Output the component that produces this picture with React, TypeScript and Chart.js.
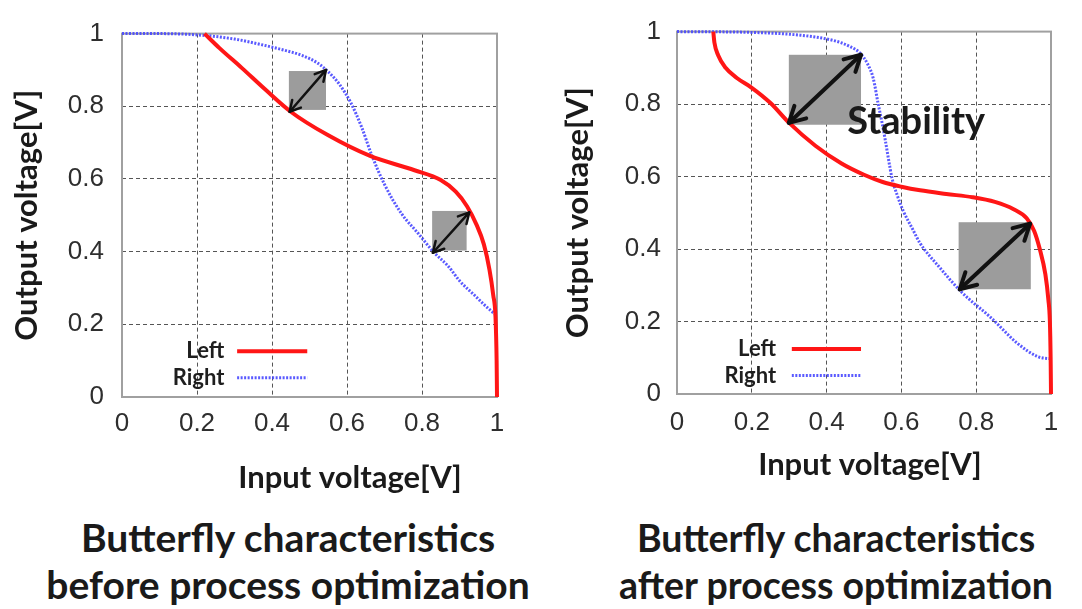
import React, { useEffect, useRef } from "react";
import { Chart, registerables } from "chart.js";

Chart.register(...registerables);

// ---------- data: before process optimization ----------
const beforeLeftX = [0.22, 0.26, 0.32, 0.38, 0.45, 0.55, 0.66, 0.78, 0.85, 0.89, 0.92, 0.945, 0.965, 0.98, 0.99, 0.996, 0.999, 1.0];
const beforeLeftY = [1.0, 0.96, 0.905, 0.848, 0.785, 0.72, 0.664, 0.624, 0.597, 0.565, 0.525, 0.475, 0.42, 0.35, 0.28, 0.22, 0.1, 0.0];
const beforeRightX = [0, 0.1, 0.22, 0.3, 0.37, 0.43, 0.48, 0.52, 0.55, 0.58, 0.61, 0.64, 0.665, 0.7, 0.745, 0.79, 0.83, 0.87, 0.9, 0.94, 0.97, 1.0];
const beforeRightY = [1.0, 1.0, 0.995, 0.985, 0.97, 0.955, 0.94, 0.92, 0.895, 0.86, 0.81, 0.74, 0.668, 0.585, 0.505, 0.45, 0.4, 0.36, 0.32, 0.28, 0.25, 0.223];
// boxes: [x0, x1, y0, y1]; arrows: [xa, ya, xb, yb]
const beforeBoxes = [
  [0.445, 0.544, 0.79, 0.897],
  [0.827, 0.919, 0.403, 0.512],
];
const beforeArrows = [
  [0.447, 0.785, 0.544, 0.9],
  [0.829, 0.397, 0.926, 0.508],
];

// ---------- data: after process optimization ----------
const afterLeftX = [0.097, 0.1, 0.11, 0.13, 0.16, 0.2, 0.25, 0.3, 0.37, 0.44, 0.5, 0.55, 0.6, 0.65, 0.72, 0.79, 0.85, 0.9, 0.935, 0.955, 0.97, 0.985, 0.993, 0.997, 0.999, 1.0];
const afterLeftY = [1.0, 0.97, 0.935, 0.9, 0.872, 0.845, 0.803, 0.748, 0.685, 0.636, 0.605, 0.585, 0.572, 0.562, 0.552, 0.543, 0.53, 0.51, 0.485, 0.45, 0.4, 0.33, 0.26, 0.2, 0.1, 0.0];
const afterRightX = [0, 0.19, 0.33, 0.42, 0.46, 0.49, 0.51, 0.525, 0.538, 0.548, 0.557, 0.566, 0.575, 0.59, 0.605, 0.63, 0.65, 0.7, 0.76, 0.84, 0.91, 0.965, 1.0];
const afterRightY = [1.0, 0.998, 0.99, 0.975, 0.96, 0.94, 0.91, 0.87, 0.8, 0.75, 0.7, 0.645, 0.595, 0.545, 0.505, 0.455, 0.416, 0.352, 0.282, 0.21, 0.14, 0.103, 0.097];
const afterBoxes = [
  [0.299, 0.492, 0.743, 0.936],
  [0.753, 0.946, 0.289, 0.474],
];
const afterArrows = [
  [0.299, 0.748, 0.492, 0.936],
  [0.756, 0.289, 0.944, 0.47],
];

const seriesNames = ["Left", "Right"];
const xTitle = "Input voltage[V]";
const yTitle = "Output voltage[V]";
const captionBefore = ["Butterfly characteristics", "before process optimization"];
const captionAfter = ["Butterfly characteristics", "after process optimization"];
const stabilityText = "Stability";

const RED = "#ff1616";
const BLUE = "rgba(72,72,255,0.9)";
const TITLE_FONT = "Lato";

type Spec = {
  leftX: number[]; leftY: number[]; rightX: number[]; rightY: number[];
  boxes: number[][]; arrows: number[][];
  arrowW: number; headLen: number;
  yWidth: number; padRight: number; xHeight: number;
  xTickPad: number; yTickPad: number; yTitlePad: number;
  xTitlePos: number; xTitleDy: number;
  legend: { textX: number; x0: number; x1: number; y0: number; y1: number };
  label?: { text: string; x: number; y: number };
};

function drawArrow(ctx: CanvasRenderingContext2D, ax: number, ay: number, bx: number, by: number, w: number, hl: number) {
  ctx.save();
  ctx.strokeStyle = "#111";
  ctx.lineWidth = w;
  ctx.lineCap = "round";
  ctx.lineJoin = "round";
  ctx.beginPath();
  ctx.moveTo(ax, ay);
  ctx.lineTo(bx, by);
  ctx.stroke();
  const heads = [
    [bx, by, Math.atan2(by - ay, bx - ax)],
    [ax, ay, Math.atan2(ay - by, ax - bx)],
  ];
  for (const [tx, ty, ang] of heads) {
    ctx.beginPath();
    ctx.moveTo(tx - hl * Math.cos(ang - 0.5), ty - hl * Math.sin(ang - 0.5));
    ctx.lineTo(tx, ty);
    ctx.lineTo(tx - hl * Math.cos(ang + 0.5), ty - hl * Math.sin(ang + 0.5));
    ctx.stroke();
  }
  ctx.restore();
}

const fmtTick = (v: number | string) => String(Math.round(Number(v) * 10) / 10);

function Panel({ spec }: { spec: Spec }) {
  const ref = useRef<HTMLCanvasElement>(null);
  useEffect(() => {
    const s = spec;
    const pts = (xs: number[], ys: number[]) => xs.map((x, i) => ({ x, y: ys[i] }));
    const overlay = {
      id: "overlay",
      beforeDatasetsDraw(chart: any) {
        const { ctx, chartArea: a, scales } = chart;
        const x = scales.x, y = scales.y;
        ctx.save();
        ctx.fillStyle = "#9c9c9c";
        for (const [x0, x1, y0, y1] of s.boxes) {
          const px0 = x.getPixelForValue(x0), px1 = x.getPixelForValue(x1);
          const py0 = y.getPixelForValue(y0), py1 = y.getPixelForValue(y1);
          ctx.fillRect(px0, py1, px1 - px0, py0 - py1);
        }
        ctx.strokeStyle = "#a0a0a0";
        ctx.lineWidth = 2;
        ctx.strokeRect(a.left, a.top, a.right - a.left, a.bottom - a.top);
        // x axis title
        ctx.font = `bold 31px ${TITLE_FONT}`;
        ctx.fillStyle = "#1a1a1a";
        ctx.textAlign = "center";
        ctx.textBaseline = "middle";
        ctx.fillText(xTitle, x.getPixelForValue(s.xTitlePos), a.bottom + s.xTitleDy);
        ctx.restore();
      },
      afterDatasetsDraw(chart: any) {
        const { ctx, scales } = chart;
        const x = scales.x, y = scales.y;
        for (const [xa, ya, xb, yb] of s.arrows) {
          drawArrow(ctx, x.getPixelForValue(xa), y.getPixelForValue(ya), x.getPixelForValue(xb), y.getPixelForValue(yb), s.arrowW, s.headLen);
        }
        const L = s.legend;
        ctx.save();
        ctx.font = `bold 22px ${TITLE_FONT}`;
        ctx.fillStyle = "#1e1e1e";
        ctx.textAlign = "right";
        ctx.textBaseline = "middle";
        const tx = x.getPixelForValue(L.textX);
        const lx0 = x.getPixelForValue(L.x0), lx1 = x.getPixelForValue(L.x1);
        const ly0 = y.getPixelForValue(L.y0), ly1 = y.getPixelForValue(L.y1);
        ctx.fillText(seriesNames[0], tx, ly0);
        ctx.fillText(seriesNames[1], tx, ly1);
        ctx.lineCap = "butt";
        ctx.strokeStyle = RED;
        ctx.lineWidth = 4;
        ctx.beginPath(); ctx.moveTo(lx0, ly0); ctx.lineTo(lx1, ly0); ctx.stroke();
        ctx.strokeStyle = BLUE;
        ctx.lineWidth = 3;
        ctx.setLineDash([2, 1.5]);
        ctx.beginPath(); ctx.moveTo(lx0, ly1); ctx.lineTo(lx1, ly1); ctx.stroke();
        ctx.setLineDash([]);
        if (s.label) {
          ctx.font = `bold 38px ${TITLE_FONT}`;
          ctx.textAlign = "left";
          ctx.fillStyle = "#1a1a1a";
          ctx.fillText(s.label.text, x.getPixelForValue(s.label.x), y.getPixelForValue(s.label.y));
        }
        ctx.restore();
      },
    };
    const tickFont = { family: "Liberation Sans", size: 26 };
    const titleFont = { family: TITLE_FONT, weight: "bold" as const, size: 31 };
    const chart = new Chart(ref.current!, {
      type: "line",
      data: {
        datasets: [
          {
            label: seriesNames[0], data: pts(s.leftX, s.leftY), borderColor: RED, borderWidth: 4,
            pointRadius: 0, cubicInterpolationMode: "monotone", clip: false as any, fill: false,
          },
          {
            label: seriesNames[1], data: pts(s.rightX, s.rightY), borderColor: BLUE, borderWidth: 3,
            borderDash: [2, 1.5], pointRadius: 0, cubicInterpolationMode: "monotone", clip: false as any, fill: false,
          },
        ],
      },
      options: {
        responsive: false,
        animation: false,
        events: [],
        layout: { padding: { top: 23, right: s.padRight, left: 0, bottom: 0 } },
        plugins: { legend: { display: false }, tooltip: { enabled: false } },
        scales: {
          x: {
            type: "linear", min: 0, max: 1,
            ticks: { stepSize: 0.2, padding: s.xTickPad, font: tickFont, color: "#2e2e2e", maxRotation: 0, callback: fmtTick },
            grid: { color: "#555", lineWidth: 1, drawTicks: false },
            border: { display: false, dash: [4, 3] },
            title: { display: false, text: xTitle },
            afterFit: (sc: any) => { sc.height = s.xHeight; },
          },
          y: {
            type: "linear", min: 0, max: 1,
            ticks: { stepSize: 0.2, padding: s.yTickPad, font: tickFont, color: "#2e2e2e", callback: fmtTick },
            grid: { color: "#555", lineWidth: 1, drawTicks: false },
            border: { display: false, dash: [4, 3] },
            title: { display: true, text: yTitle, font: titleFont, color: "#1a1a1a", padding: { top: s.yTitlePad, bottom: 0 } },
            afterFit: (sc: any) => { sc.width = s.yWidth; },
          },
        },
      },
      plugins: [overlay],
    });
    return () => chart.destroy();
  }, [spec]);
  return <canvas ref={ref} width={541} height={500} style={{ display: "block", width: 541, height: 500 }} />;
}

const beforeSpec: Spec = {
  leftX: beforeLeftX, leftY: beforeLeftY, rightX: beforeRightX, rightY: beforeRightY,
  boxes: beforeBoxes, arrows: beforeArrows, arrowW: 2.5, headLen: 12,
  yWidth: 122, padRight: 44, xHeight: 103, xTickPad: 11, yTickPad: 18, yTitlePad: 8,
  xTitlePos: 0.608, xTitleDy: 81,
  legend: { textX: 0.273, x0: 0.307, x1: 0.494, y0: 0.126, y1: 0.053 },
};
const afterSpec: Spec = {
  leftX: afterLeftX, leftY: afterLeftY, rightX: afterRightX, rightY: afterRightY,
  boxes: afterBoxes, arrows: afterArrows, arrowW: 4, headLen: 18,
  yWidth: 136, padRight: 31, xHeight: 106, xTickPad: 13, yTickPad: 16, yTitlePad: 18,
  xTitlePos: 0.516, xTitleDy: 71,
  legend: { textX: 0.265, x0: 0.307, x1: 0.492, y0: 0.124, y1: 0.051 },
  label: { text: stabilityText, x: 0.455, y: 0.752 },
};

function Caption({ lines, cx, size }: { lines: string[]; cx: number; size: number }) {
  return (
    <div
      style={{
        position: "absolute", left: cx - 270, width: 540, top: 514, textAlign: "center",
        fontFamily: TITLE_FONT, fontWeight: 700, fontSize: size, lineHeight: "47px", color: "#1a1a1a",
        whiteSpace: "nowrap",
      }}
    >
      {lines.map((l, i) => (<div key={i}>{l}</div>))}
    </div>
  );
}

export default function App() {
  return (
    <div style={{ position: "fixed", left: 0, top: 0, width: 1082, height: 609, background: "#fff", overflow: "hidden" }}>
      <div style={{ position: "absolute", left: 0, top: 0 }}><Panel spec={beforeSpec} /></div>
      <div style={{ position: "absolute", left: 541, top: 0 }}><Panel spec={afterSpec} /></div>
      <Caption lines={captionBefore} cx={288} size={39} />
      <Caption lines={captionAfter} cx={836} size={37.5} />
    </div>
  );
}
